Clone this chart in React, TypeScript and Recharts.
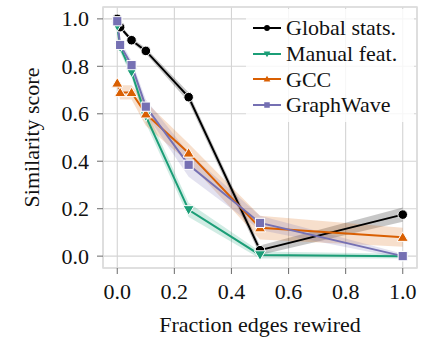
import React from 'react';
import { ComposedChart, Line, Area, XAxis, YAxis, CartesianGrid, ReferenceArea } from 'recharts';

const fractions = [0, 0.01, 0.05, 0.1, 0.25, 0.5, 1.0];
const globalStats = [1.0, 0.965, 0.91, 0.865, 0.67, 0.025, 0.175];
const globalErr = [0.01, 0.01, 0.01, 0.012, 0.02, 0.02, 0.03];
const manualFeat = [0.97, 0.88, 0.775, 0.59, 0.195, 0.005, 0.0];
const manualErr = [0.01, 0.02, 0.02, 0.03, 0.03, 0.015, 0.01];
const gcc = [0.73, 0.69, 0.69, 0.6, 0.435, 0.12, 0.08];
const gccErr = [0.02, 0.03, 0.03, 0.05, 0.04, 0.05, 0.04];
const graphWave = [0.99, 0.89, 0.805, 0.63, 0.385, 0.14, 0.0];
const graphWaveErr = [0.01, 0.02, 0.02, 0.03, 0.05, 0.03, 0.01];
const seriesNames = ['Global stats.', 'Manual feat.', 'GCC', 'GraphWave'];
const xTicks = [0, 0.2, 0.4, 0.6, 0.8, 1.0];
const yTicks = [0, 0.2, 0.4, 0.6, 0.8, 1.0];

const FONT = '"Liberation Serif", "Times New Roman", serif';
const colors = ['#000000', '#1b9e77', '#d95f02', '#7570b3'];
const shapes = ['circle', 'down', 'up', 'square'];
const keys = ['g', 'm', 'c', 'w'];
const values = [globalStats, manualFeat, gcc, graphWave];
const errs = [globalErr, manualErr, gccErr, graphWaveErr];

const data = fractions.map((x, i) => {
  const row: any = { x };
  keys.forEach((k, s) => {
    row[k] = values[s][i];
    row[k + 'Band'] = [values[s][i] - errs[s][i], values[s][i] + errs[s][i]];
  });
  return row;
});

function MarkerShape({ cx, cy, shape, color, size = 1, stroke = '#fff' }: any) {
  if (cx == null || cy == null) return null;
  if (shape === 'circle') return <circle cx={cx} cy={cy} r={4.8 * size} fill={color} stroke={stroke} strokeWidth={1} />;
  if (shape === 'square') {
    const h = 4.6 * size;
    return <rect x={cx - h} y={cy - h} width={2 * h} height={2 * h} fill={color} stroke={stroke} strokeWidth={1} />;
  }
  const s = 5.6 * size;
  if (shape === 'down')
    return <polygon points={`${cx - s},${cy - s * 0.75} ${cx + s},${cy - s * 0.75} ${cx},${cy + s * 0.95}`} fill={color} stroke={stroke} strokeWidth={1} />;
  return <polygon points={`${cx - s},${cy + s * 0.75} ${cx + s},${cy + s * 0.75} ${cx},${cy - s * 0.95}`} fill={color} stroke={stroke} strokeWidth={1} />;
}

function makeDot(s: number) {
  return (p: any) => (
    <g key={`d${s}-${p.index}`}>
      <MarkerShape cx={p.cx} cy={p.cy} shape={shapes[s]} color={colors[s]} />
    </g>
  );
}

function XTick({ x, y, payload }: any) {
  return (
    <text x={x} y={y + 19} textAnchor="middle" fill="#111" fontSize={22} style={{ fontFamily: FONT }}>
      {Number(payload.value).toFixed(1)}
    </text>
  );
}

function YTick({ x, y, payload }: any) {
  return (
    <text x={x} y={y + 7.5} textAnchor="end" fill="#111" fontSize={22} style={{ fontFamily: FONT }}>
      {Number(payload.value).toFixed(1)}
    </text>
  );
}

export default function App() {
  return (
    <div style={{ position: 'absolute', left: 0, top: 0, width: 434, height: 339, background: '#fff', fontFamily: FONT }}>
      <ComposedChart width={434} height={339} data={data} margin={{ top: 7, right: 17, left: 0, bottom: 0 }} style={{ fontFamily: FONT }}>
        <CartesianGrid stroke="#d4d4d4" strokeWidth={1.1} />
        <ReferenceArea x1={-0.05} x2={1.05} y1={-0.05} y2={1.05} fill="none" stroke="#dcdcdc" strokeWidth={1.5} />
        <XAxis
          dataKey="x"
          type="number"
          domain={[-0.05, 1.05]}
          ticks={xTicks}
          axisLine={false}
          tickLine={{ stroke: '#777', strokeWidth: 1.1 }}
          tickSize={6}
          tickMargin={6}
          height={71}
          tick={<XTick />}
          label={{ value: 'Fraction edges rewired', position: 'center', dy: 21, fill: '#111', fontSize: 22, fontFamily: FONT }}
        />
        <YAxis
          type="number"
          domain={[-0.05, 1.05]}
          ticks={yTicks}
          axisLine={false}
          tickLine={{ stroke: '#777', strokeWidth: 1.1 }}
          tickSize={6}
          tickMargin={8}
          width={103}
          tick={<YTick />}
          label={{ value: 'Similarity score', angle: -90, position: 'center', dx: -20, fill: '#111', fontSize: 22, fontFamily: FONT }}
        />
        {keys.map((k, s) => (
          <Area key={k + 'Band'} dataKey={k + 'Band'} type="linear" stroke="none" fill={colors[s]} fillOpacity={s === 0 ? 0.22 : 0.2} isAnimationActive={false} activeDot={false} />
        ))}
        {keys.map((k, s) => (
          <Line key={k} dataKey={k} type="linear" stroke={colors[s]} strokeWidth={2} dot={makeDot(s)} activeDot={false} isAnimationActive={false} />
        ))}
      </ComposedChart>
      <div
        style={{
          position: 'absolute',
          left: 246,
          top: 9,
          width: 168,
          padding: '6px 0 4px 0',
          background: 'rgba(255,255,255,0.8)',
          fontFamily: FONT,
          fontSize: 22,
          color: '#111',
        }}
      >
        {seriesNames.map((name, s) => (
          <div key={name} style={{ display: 'flex', alignItems: 'center', height: 25.8, whiteSpace: 'nowrap' }}>
            <svg width={30} height={14} style={{ marginLeft: 6, marginRight: 4, flex: 'none' }}>
              <line x1={1} y1={7} x2={29} y2={7} stroke={colors[s]} strokeWidth={2} />
              <MarkerShape cx={15} cy={7} shape={shapes[s]} color={colors[s]} size={0.6} stroke="none" />
            </svg>
            <span style={{ lineHeight: '25.8px' }}>{name}</span>
          </div>
        ))}
      </div>
    </div>
  );
}
